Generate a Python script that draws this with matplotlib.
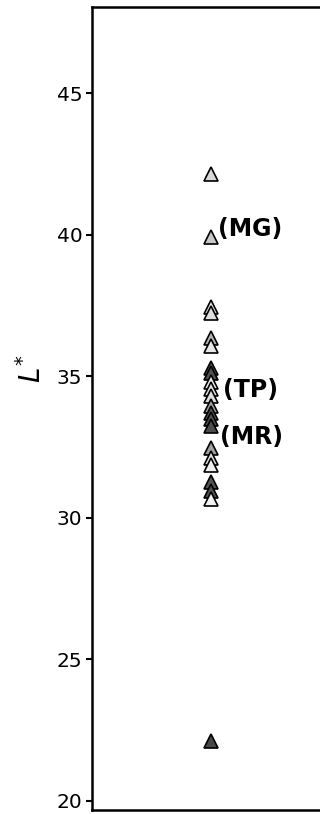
import matplotlib
matplotlib.use("Agg")
import matplotlib.pyplot as plt

plt.rcParams['font.family'] = ['DejaVu Sans']
plt.rcParams['mathtext.fontset'] = 'custom'
plt.rcParams['mathtext.rm'] = 'DejaVu Sans'
plt.rcParams['mathtext.it'] = 'DejaVu Sans:italic'

# L* values of the samples and their fill shades
lightness = [42.15, 39.9, 37.45, 37.25, 36.35, 36.05, 35.3, 35.1,
             34.8, 34.55, 34.3, 33.95, 33.7, 33.5, 33.25, 32.45,
             32.1, 31.85, 31.25, 30.95, 30.65, 22.1]
shades = ['#d8d8d8', '#c8c8c8', '#e6e6e6', '#e0e0e0', '#b4b4b4', '#e8e8e8',
          '#555555', '#505050', '#eeeeee', '#e4e4e4', '#dcdcdc', '#a0a0a0',
          '#585858', '#505050', '#4c4c4c', '#a0a0a0', '#e0e0e0', '#f0f0f0',
          '#555555', '#505050', '#f2f2f2', '#484848']

# labelled samples
label_names = ['(MG)', '(TP)', '(MR)']
label_values = [40.2, 34.5, 32.85]
label_dx = [5, 8.5, 6.5]

yticks = [20, 25, 30, 35, 40, 45]

fig = plt.figure(figsize=(3.2, 8.14), dpi=100)
ax = fig.add_axes([92 / 320, 4 / 814, 238 / 320, 803 / 814])

for v, c in zip(lightness, shades):
    ax.plot([1], [v], marker='^', markersize=10, markerfacecolor=c,
            markeredgecolor='black', markeredgewidth=1.2, linestyle='none')

for name, v, dx in zip(label_names, label_values, label_dx):
    ax.annotate(name, xy=(1, v), xytext=(dx, 0), textcoords='offset points',
                ha='left', va='center', fontsize=17, fontweight='bold')

ax.set_xlim(0.5, 1.5)
ax.set_ylim(19.68, 48.04)
ax.set_yticks(yticks)
ax.set_xticks([])
ax.tick_params(axis='y', direction='out', length=4, width=1.5,
               labelsize=14.5, pad=3)
for side in ['left', 'top', 'bottom']:
    ax.spines[side].set_linewidth(1.8)
ax.spines['right'].set_visible(False)

ax.set_ylabel(r'$L^{*}$', fontsize=20)
ax.yaxis.set_label_coords(-0.19, 0.55)

fig.savefig('out.png', dpi=100)
